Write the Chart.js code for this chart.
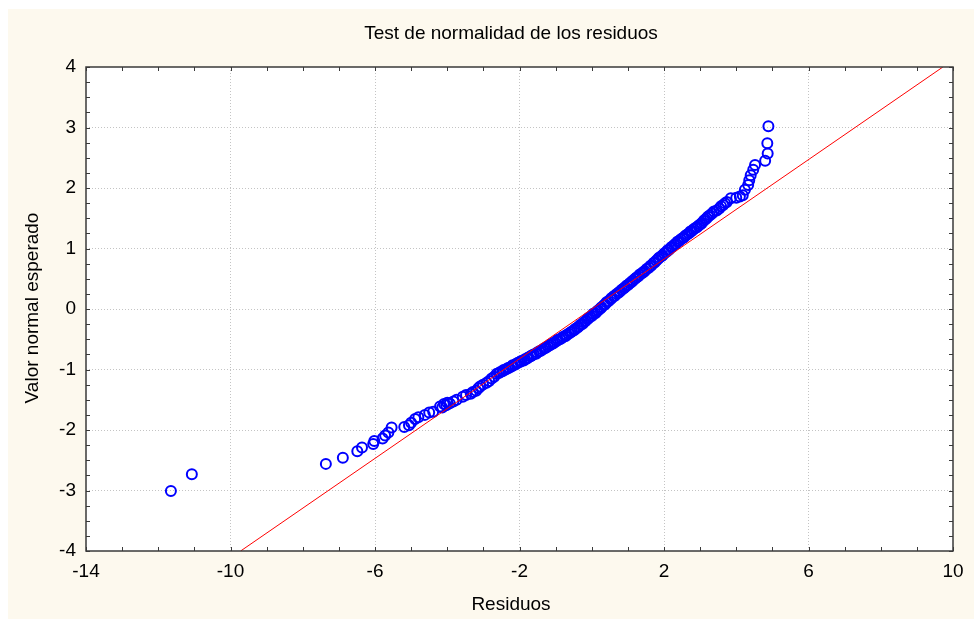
<!DOCTYPE html>
<html lang="es">
<head>
<meta charset="utf-8">
<title>Test de normalidad de los residuos</title>
<script src="https://cdn.jsdelivr.net/npm/chart.js@4.4.1/dist/chart.umd.min.js"></script>
<style>
  html, body { margin: 0; padding: 0; background: #ffffff; }
  #grafico { display: block; }
</style>
</head>
<body>
<canvas id="grafico" width="974" height="619"></canvas>
<script>
// Datos (residuos vs valor normal esperado)
const residuos = [
  -11.65, -11.07, -7.36, -6.89, -6.49, -6.36, -6.05, -6.02, -5.79, -5.72,
  -5.63, -5.54, -5.19, -5.06, -5.00, -4.89, -4.80, -4.62, -4.50, -4.39,
  -4.20, -4.14, -4.09, -4.03, -4.00, -3.93, -3.83, -3.74, -3.57, -3.48,
  -3.35, -3.29, -3.20, -3.14, -3.09, -3.01, -2.91, -2.84, -2.77, -2.70,
  -2.63, -2.57, -2.53, -2.47, -2.44, -2.38, -2.33, -2.29, -2.22, -2.19,
  -2.13, -2.08, -2.04, -1.98, -1.95, -1.88, -1.85, -1.79, -1.76, -1.69,
  -1.66, -1.61, -1.54, -1.51, -1.45, -1.41, -1.36, -1.31, -1.27, -1.22,
  -1.16, -1.12, -1.07, -1.03, -0.97, -0.94, -0.88, -0.83, -0.79, -0.73,
  -0.70, -0.64, -0.59, -0.55, -0.49, -0.46, -0.40, -0.36, -0.31, -0.26,
  -0.22, -0.17, -0.12, -0.09, -0.04, 0.01, 0.04, 0.10, 0.14, 0.18,
  0.24, 0.27, 0.33, 0.37, 0.41, 0.46, 0.52, 0.55, 0.61, 0.64,
  0.69, 0.74, 0.78, 0.83, 0.88, 0.92, 0.97, 1.01, 1.06, 1.11,
  1.14, 1.20, 1.24, 1.29, 1.33, 1.39, 1.43, 1.47, 1.52, 1.58,
  1.62, 1.65, 1.71, 1.74, 1.79, 1.84, 1.87, 1.93, 1.96, 2.01,
  2.06, 2.10, 2.14, 2.20, 2.23, 2.28, 2.33, 2.37, 2.41, 2.46,
  2.51, 2.55, 2.59, 2.64, 2.69, 2.73, 2.77, 2.82, 2.87, 2.91,
  2.96, 3.01, 3.05, 3.10, 3.14, 3.18, 3.22, 3.27, 3.33, 3.38,
  3.46, 3.53, 3.58, 3.64, 3.69, 3.74, 3.85, 4.00, 4.10, 4.18,
  4.24, 4.33, 4.36, 4.40, 4.47, 4.52, 4.80, 4.87, 4.86, 4.89
];
const valorNormal = [
  -3.01, -2.73, -2.56, -2.46, -2.35, -2.29, -2.23, -2.18, -2.14, -2.09,
  -2.04, -1.96, -1.95, -1.92, -1.88, -1.82, -1.79, -1.75, -1.71, -1.70,
  -1.61, -1.63, -1.57, -1.59, -1.55, -1.56, -1.53, -1.50, -1.45, -1.42,
  -1.40, -1.37, -1.35, -1.31, -1.28, -1.25, -1.22, -1.19, -1.15, -1.12,
  -1.07, -1.06, -1.04, -1.03, -1.01, -1.00, -0.98, -0.97, -0.95, -0.93,
  -0.92, -0.90, -0.89, -0.87, -0.86, -0.85, -0.83, -0.82, -0.80, -0.78,
  -0.77, -0.75, -0.74, -0.72, -0.70, -0.69, -0.67, -0.65, -0.64, -0.62,
  -0.60, -0.58, -0.57, -0.55, -0.53, -0.51, -0.50, -0.48, -0.46, -0.45,
  -0.43, -0.41, -0.39, -0.37, -0.35, -0.33, -0.31, -0.29, -0.26, -0.25,
  -0.22, -0.20, -0.17, -0.15, -0.13, -0.11, -0.08, -0.07, -0.04, -0.02,
  0.01, 0.03, 0.06, 0.08, 0.11, 0.13, 0.16, 0.18, 0.21, 0.22,
  0.25, 0.27, 0.29, 0.32, 0.34, 0.36, 0.39, 0.40, 0.43, 0.45,
  0.47, 0.50, 0.52, 0.54, 0.57, 0.59, 0.61, 0.63, 0.66, 0.68,
  0.71, 0.72, 0.76, 0.77, 0.80, 0.83, 0.85, 0.87, 0.89, 0.92,
  0.94, 0.97, 0.98, 1.02, 1.03, 1.06, 1.08, 1.11, 1.12, 1.15,
  1.17, 1.18, 1.21, 1.23, 1.25, 1.28, 1.29, 1.32, 1.34, 1.35,
  1.38, 1.40, 1.42, 1.46, 1.48, 1.50, 1.53, 1.55, 1.58, 1.61,
  1.63, 1.66, 1.70, 1.72, 1.75, 1.77, 1.83, 1.84, 1.86, 1.88,
  1.97, 2.05, 2.13, 2.21, 2.30, 2.38, 2.45, 2.57, 2.74, 3.02
];

// Recta de referencia (extremos)
const rectaX = [-9.72, 9.72];
const rectaY = [-4, 4];

// Ejes
const ejeX = { min: -14, max: 10, paso: 1, cadaEtiqueta: 4 };
const ejeY = { min: -4, max: 4, paso: 0.25 };

const titulo = 'Test de normalidad de los residuos';
const tituloX = 'Residuos';
const tituloY = 'Valor normal esperado';

const FUENTE = '"Liberation Sans", Arial, sans-serif';

// Fondo crema, marco del area de trazado, ticks hacia dentro y textos
const marcoPlugin = {
  id: 'marco',
  beforeDraw(chart) {
    const { ctx, width, height, chartArea: a } = chart;
    ctx.save();
    ctx.fillStyle = '#ffffff';
    ctx.fillRect(0, 0, width, height);
    ctx.fillStyle = '#fdf9ee';
    ctx.fillRect(8, 9, width - 8, height - 9);
    ctx.fillStyle = '#ffffff';
    ctx.fillRect(a.left, a.top, a.right - a.left, a.bottom - a.top);
    ctx.restore();
  },
  afterDraw(chart) {
    const { ctx, chartArea: a, scales } = chart;
    const largo = 4;
    ctx.save();
    ctx.strokeStyle = '#3a3a3a';
    ctx.lineWidth = 1;
    ctx.beginPath();
    scales.x.ticks.forEach(t => {
      const p = Math.round(scales.x.getPixelForValue(t.value)) + 0.5;
      ctx.moveTo(p, a.bottom); ctx.lineTo(p, a.bottom - largo);
      ctx.moveTo(p, a.top); ctx.lineTo(p, a.top + largo);
    });
    scales.y.ticks.forEach(t => {
      const p = Math.round(scales.y.getPixelForValue(t.value)) + 0.5;
      ctx.moveTo(a.left, p); ctx.lineTo(a.left + largo, p);
      ctx.moveTo(a.right, p); ctx.lineTo(a.right - largo, p);
    });
    ctx.stroke();
    ctx.lineWidth = 1.5;
    ctx.strokeRect(a.left, a.top, a.right - a.left, a.bottom - a.top);

    ctx.fillStyle = '#000000';
    ctx.font = '19px ' + FUENTE;
    ctx.textAlign = 'center';
    ctx.textBaseline = 'middle';
    ctx.fillText(titulo, 511, 34);
    ctx.fillText(tituloX, 511, 605);
    ctx.translate(33, 308);
    ctx.rotate(-Math.PI / 2);
    ctx.fillText(tituloY, 0, 0);
    ctx.restore();
  }
};

const puntos = residuos.map((x, i) => ({ x: x, y: valorNormal[i] }));
const recta = rectaX.map((x, i) => ({ x: x, y: rectaY[i] }));

new Chart(document.getElementById('grafico'), {
  type: 'scatter',
  data: {
    datasets: [
      {
        type: 'line',
        label: 'Recta',
        data: recta,
        borderColor: '#ff0000',
        borderWidth: 1,
        pointRadius: 0,
        fill: false
      },
      {
        label: 'Residuos',
        data: puntos,
        pointStyle: 'circle',
        pointRadius: 5,
        pointBorderWidth: 2,
        borderColor: '#0000ff',
        backgroundColor: 'rgba(0,0,0,0)'
      }
    ]
  },
  options: {
    responsive: false,
    animation: false,
    events: [],
    layout: { padding: { top: 67, right: 21, left: 0, bottom: 0 } },
    plugins: {
      legend: { display: false },
      title: { display: false },
      tooltip: { enabled: false }
    },
    scales: {
      x: {
        type: 'linear',
        min: ejeX.min,
        max: ejeX.max,
        afterFit: s => { s.height = 68; },
        grid: {
          drawTicks: false,
          lineWidth: 1,
          color: c => {
            const v = c.tick ? c.tick.value : null;
            if (v === null || v === ejeX.min || v === ejeX.max) return 'rgba(0,0,0,0)';
            return (v - ejeX.min) % ejeX.cadaEtiqueta === 0 ? '#c4c4c4' : 'rgba(0,0,0,0)';
          }
        },
        border: { display: false, dash: [1, 2] },
        ticks: {
          stepSize: ejeX.paso,
          autoSkip: false,
          maxRotation: 0,
          padding: 9,
          color: '#000000',
          font: { size: 19, family: FUENTE },
          callback: v => ((v - ejeX.min) % ejeX.cadaEtiqueta === 0 ? String(v) : '')
        }
      },
      y: {
        type: 'linear',
        min: ejeY.min,
        max: ejeY.max,
        afterFit: s => { s.width = 86; },
        grid: {
          drawTicks: false,
          lineWidth: 1,
          color: c => {
            const v = c.tick ? c.tick.value : null;
            if (v === null || v === ejeY.min || v === ejeY.max) return 'rgba(0,0,0,0)';
            return Number.isInteger(v) ? '#c4c4c4' : 'rgba(0,0,0,0)';
          }
        },
        border: { display: false, dash: [1, 2] },
        ticks: {
          stepSize: ejeY.paso,
          autoSkip: false,
          padding: 10,
          color: '#000000',
          font: { size: 19, family: FUENTE },
          callback: v => (Number.isInteger(v) ? String(v) : '')
        }
      }
    }
  },
  plugins: [marcoPlugin]
});
</script>
</body>
</html>
